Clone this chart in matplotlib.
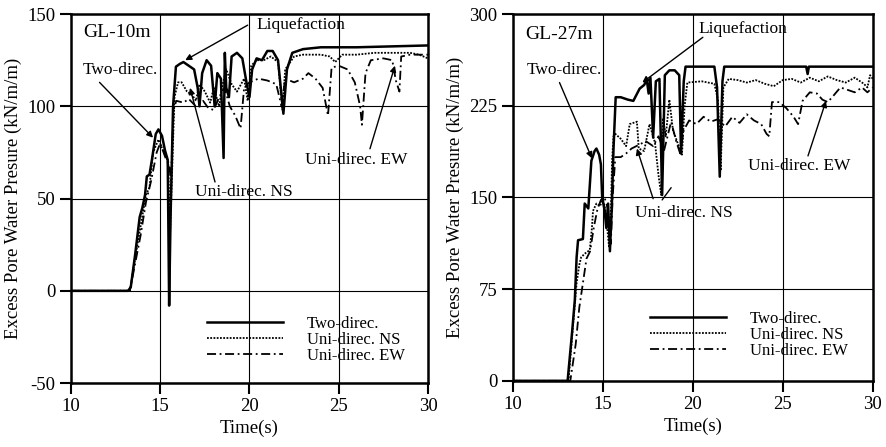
import numpy as np
import matplotlib
matplotlib.use("Agg")
from matplotlib import pyplot as plt

plt.rcParams['font.family'] = ['Liberation Serif', 'DejaVu Serif']
plt.rcParams['axes.unicode_minus'] = False

# GL-10m records (time in s, excess pore water pressure in kN/m/m)
t10_two = [10,13.2,13.35,13.6,13.85,14.0,14.15,14.25,14.4,14.55,14.75,14.9,15.1,15.27,15.42,15.5,15.58,15.72,15.88,16.1,
           16.3,16.6,16.9,17.1,17.2,17.35,17.6,17.85,18.05,18.2,18.4,18.55,18.62,18.7,18.85,19.0,19.3,19.6,19.85,20.0,
           20.15,20.4,20.7,21.0,21.3,21.6,21.9,22.1,22.4,23.0,24.0,26.0,28.0,30.0]
p10_two = [0,0,2,20,40,45,52,62,63,72,85,87.5,84,76,71,-8,40,100,121.5,123,
           124,122,120,110,100,118,125,122,100,118,115,72,129,110,105,127,129,126,112,105,
           120,126,125,130,130,125,96,120,129,131,132,132,132.5,133]

t10_ns = [10,13.3,13.6,13.9,14.2,14.4,14.6,14.9,15.2,15.45,15.55,15.65,15.8,16.0,16.2,16.5,16.8,17.0,17.2,17.5,
          17.8,18.0,18.3,18.5,18.7,19.0,19.3,19.7,19.9,20.1,20.4,20.8,21.2,21.6,21.85,22.0,22.5,23.0,24.0,24.5,
          24.8,25.2,26.0,27.0,28.0,29.0,29.5,30.0]
p10_ns = [0,0,18,35,52,56,75,82,75,70,30,60,105,113,113,108,106,103,112,108,
          102,110,100,112,120,112,108,115,103,122,125,125,127,124,98,120,127,128,128,127,
          124,128,128,129,129,129,128,126]

t10_ew = [10,13.3,13.6,13.9,14.2,14.5,14.8,15.0,15.3,15.5,15.6,15.75,15.9,16.3,16.6,17.0,17.4,17.7,18.0,18.3,
          18.6,18.9,19.2,19.5,19.7,20.0,20.5,21.0,21.5,21.8,22.0,22.5,23.0,23.3,23.7,24.1,24.4,24.6,25.0,25.5,
          25.9,26.2,26.3,26.5,26.8,27.5,28.0,28.2,28.4,28.5,29.0,30.0]
p10_ew = [0,0,15,30,48,60,75,80,72,68,60,98,103,102,104,100,103,99,98,105,
          110,100,95,88,110,113,115,114,112,100,115,113,115,118,115,110,95,121,122,120,
          113,100,90,118,125,126,125,114,108,127,128,128]

# GL-27m records
t27_two = [10,13.05,13.3,13.45,13.55,13.63,13.9,14.0,14.2,14.37,14.55,14.65,14.8,14.9,14.97,15.1,15.2,15.3,15.4,15.5,
           15.6,15.72,16.0,16.4,16.7,17.05,17.3,17.45,17.55,17.65,17.8,17.95,18.15,18.3,18.45,18.7,19.0,19.25,19.35,19.5,
           19.6,21.2,21.35,21.5,21.65,21.75,26.3,26.38,26.45,30]
p27_two = [0,0,40,66,101,115,116,145,141,180,188,190,185,177,150,140,125,145,106,140,
           190,232,232,230,229,239,242,246,235,248,199,245,247,152,250,254,254,250,186,245,
           257,257,240,167,245,257,257,251,257,257]

t27_ns = [10,13.1,13.35,13.55,13.7,13.8,14.0,14.28,14.4,14.46,14.65,14.85,15.0,15.15,15.25,15.35,15.45,15.52,15.6,15.7,
          16.0,16.3,16.5,16.9,17.0,17.3,17.6,17.9,18.1,18.25,18.35,18.5,18.7,18.9,19.15,19.4,19.55,19.7,20.5,21.2,
          21.4,21.55,21.7,22.0,22.5,23.0,23.5,24.0,24.5,25.0,25.5,26.0,26.5,27.0,27.5,28.0,28.5,29.0,29.5,29.7,
          29.85,30]
p27_ns = [0,0,45,80,95,101,104,107,125,139,145,143,148,140,125,110,135,180,200,202,
          198,192,210,212,190,188,210,195,168,152,215,200,230,205,195,185,225,244,245,243,
          230,172,240,247,246,244,246,243,241,246,247,244,248,245,249,246,244,248,243,240,
          250,247]

t27_ew = [10,13.2,13.5,13.7,13.9,14.1,14.3,14.5,14.7,14.9,15.1,15.3,15.45,15.55,15.7,16.0,16.3,16.6,17.0,17.4,
          17.8,18.1,18.4,18.8,19.1,19.3,19.5,19.8,20.2,20.6,21.0,21.4,21.8,22.2,22.6,23.0,23.4,23.8,24.1,24.25,
          24.4,24.8,25.2,25.6,25.85,26.1,26.5,26.9,27.2,27.5,27.8,28.2,28.6,29.0,29.4,29.7,30]
p27_ew = [0,0,30,60,80,100,106,125,140,148,150,140,112,150,183,183,186,190,193,196,
          192,200,188,212,195,186,205,213,210,216,212,214,208,216,211,218,213,210,202,200,
          228,228,223,216,210,229,236,235,230,228,233,240,238,236,240,236,240]

labels = ["Two-direc.", "Uni-direc. NS", "Uni-direc. EW"]
xticks = [10, 15, 20, 25, 30]

fig = plt.figure(figsize=(8.87, 4.47), dpi=100)
ax1 = fig.add_axes([0.080, 0.143, 0.4025, 0.8255])
ax2 = fig.add_axes([0.578, 0.148, 0.406, 0.8205])


def setup(ax, ylim, yticks):
    ax.set_xlim(10, 30)
    ax.set_ylim(*ylim)
    ax.set_xticks(xticks)
    ax.set_yticks(yticks)
    ax.grid(True, color='k', lw=0.8)
    ax.set_axisbelow(True)
    for s in ax.spines.values():
        s.set_linewidth(1.8)
    ax.tick_params(direction='out', length=8, width=1.5, labelsize=13.5, pad=3)
    ax.set_xlabel("Time(s)", fontsize=13.5, labelpad=3)
    ax.set_ylabel("Excess Pore Water Presure (kN/m/m)", fontsize=13.5, labelpad=4)


def curves(ax, t1, p1, t2, p2, t3, p3, ytop):
    ax.plot(t1, p1, color='k', lw=1.8, ls='-', label=labels[0])
    ax.plot(t2, p2, color='k', lw=1.3, ls=(0, (1, 0.8)), label=labels[1])
    ax.plot(t3, p3, color='k', lw=1.3, ls=(0, (5, 2, 1, 2)), label=labels[2])
    ax.legend(loc='upper left', bbox_to_anchor=(0.38, ytop), frameon=False, fontsize=12,
              handlelength=4.6, handletextpad=1.4, labelspacing=0.0, borderpad=0, borderaxespad=0)


arrow = dict(arrowstyle='-|>', color='k', lw=1.0, mutation_scale=9, shrinkA=0, shrinkB=0)
line = dict(arrowstyle='-', color='k', lw=1.0, shrinkA=0, shrinkB=0)

# left: GL-10m
setup(ax1, (-50, 150), [-50, 0, 50, 100, 150])
curves(ax1, t10_two, p10_two, t10_ns, p10_ns, t10_ew, p10_ew, 0.183)
ax1.text(10.7, 140, "GL-10m", fontsize=14, va='center', ha='left')
ax1.annotate("", xy=(16.4, 125), xytext=(19.9, 144), arrowprops=arrow)
ax1.text(22.9, 144, "Liquefaction", fontsize=12.5, ha='center', va='center')
ax1.annotate("", xy=(14.6, 83), xytext=(11.6, 113), arrowprops=arrow)
ax1.text(12.75, 119.5, "Two-direc.", fontsize=12.5, ha='center', va='center')
ax1.annotate("", xy=(16.67, 110), xytext=(18.07, 59), arrowprops=arrow)
ax1.text(19.7, 53.5, "Uni-direc. NS", fontsize=12.5, ha='center', va='center')
ax1.annotate("", xy=(28.15, 122), xytext=(26.75, 77), arrowprops=arrow)
ax1.text(26.0, 71, "Uni-direc. EW", fontsize=12.5, ha='center', va='center')

# right: GL-27m
setup(ax2, (0, 300), [0, 75, 150, 225, 300])
curves(ax2, t27_two, p27_two, t27_ns, p27_ns, t27_ew, p27_ew, 0.19)
ax2.text(10.7, 283, "GL-27m", fontsize=14, va='center', ha='left')
ax2.annotate("", xy=(17.2, 244), xytext=(20.56, 281), arrowprops=arrow)
ax2.text(22.8, 288, "Liquefaction", fontsize=12.5, ha='center', va='center')
ax2.annotate("", xy=(14.4, 182), xytext=(12.6, 244), arrowprops=arrow)
ax2.text(12.85, 254, "Two-direc.", fontsize=12.5, ha='center', va='center')
ax2.annotate("", xy=(16.9, 190), xytext=(17.8, 149), arrowprops=arrow)
ax2.annotate("", xy=(18.8, 158), xytext=(18.3, 148), arrowprops=line)
ax2.text(19.5, 137, "Uni-direc. NS", fontsize=12.5, ha='center', va='center')
ax2.annotate("", xy=(27.4, 229), xytext=(26.4, 184), arrowprops=arrow)
ax2.text(25.9, 176, "Uni-direc. EW", fontsize=12.5, ha='center', va='center')

fig.savefig("out.png", dpi=100)
